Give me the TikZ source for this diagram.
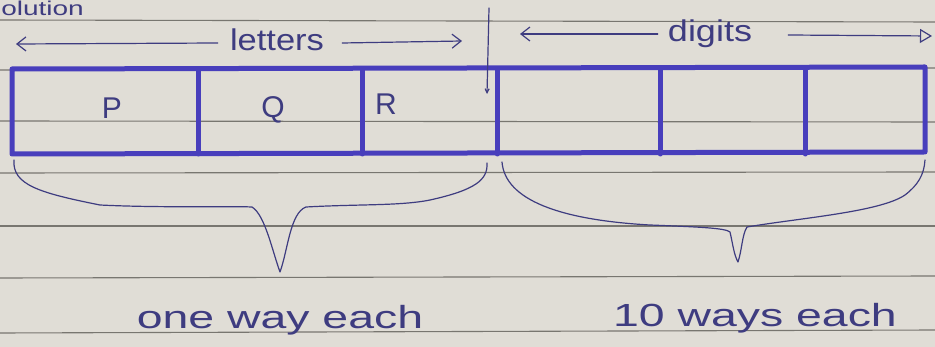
\documentclass[tikz,border=0pt]{standalone}
\usepackage{fontspec}
\setmainfont{Liberation Sans}
\usetikzlibrary{arrows.meta}
\definecolor{paper}{RGB}{224,221,214}
\definecolor{rule}{RGB}{120,118,112}
\definecolor{marker}{RGB}{72,62,188}
\definecolor{pen}{RGB}{62,60,128}
\tikzset{
  ruling/.style={draw=rule, line width=1.1pt},
  cellwall/.style={draw=marker, line width=5pt, line cap=round, line join=round},
  penline/.style={draw=pen, line width=1.2pt, line cap=round, line join=round},
  hand/.style={text=pen, font=\fontsize{30}{32}\selectfont, inner sep=0pt},
  handwide/.style={text=pen, font=\fontsize{32}{34}\selectfont, inner sep=0pt, xscale=1.45},
  handsmall/.style={text=pen, font=\fontsize{20}{22}\selectfont, inner sep=0pt, xscale=1.4},
}
\begin{document}
\begin{tikzpicture}[x=1pt,y=-1pt]
  % sheet of paper
  \fill[paper] (0,0) rectangle (935,347);
  \useasboundingbox (0,0) rectangle (935,347);
  % ruled lines of the notebook
  \foreach \ya/\yb in {20/22, 70/68, 121/122, 173/172, 226/226, 278/276, 333/330}
    \draw[ruling] (0,\ya) -- (935,\yb);

  % heading fragment at the top edge
  \node[handsmall, anchor=north west] (head) at (1,1) {olution};

  % the row of cells
  \coordinate (tl) at (12,69);
  \coordinate (tr) at (925,67);
  \coordinate (bl) at (12,154);
  \coordinate (br) at (925,152);
  \draw[cellwall] (tl) -- (tr) -- (br) -- (bl) -- cycle;
  \foreach \x/\n in {198/a, 362/b, 497/c, 660/d, 805/e}
    \draw[cellwall] (\x,69) -- (\x,154);

  % cell contents
  \node[hand] (p) at (112,108) {P};
  \node[hand] (q) at (273,110) {Q};
  \node[hand] (r) at (386,104) {R};

  % labels over the two groups of cells
  \node[hand, xscale=1.15] (letters) at (277,40) {letters};
  \node[hand, xscale=1.2] (digits) at (710,34) {digits};
  \coordinate (la) at (16,44);
  \coordinate (lb) at (462,41);
  \coordinate (da) at (520,34);
  \coordinate (db) at (932,36);
  \draw[penline, -{Straight Barb[length=9pt, width=14pt]}] (letters.west) ++(-12,3) -- (la);
  \draw[penline, -{Straight Barb[length=9pt, width=14pt]}] (letters.east) ++(18,3) -- (lb);
  \draw[penline, -{Straight Barb[length=9pt, width=14pt]}] (digits.west) ++(-10,0) -- (da);
  \draw[penline, -{Triangle[open, length=12pt, width=14pt]}] (digits.east) ++(36,1) -- (db);

  % split mark between letters and digits
  \coordinate (st) at (489,8);
  \coordinate (sb) at (487,94);
  \draw[penline, -{Straight Barb[length=4pt, width=4pt]}] (st) -- (sb);

  % brace under the letters
  \coordinate (lb1) at (14,160);
  \coordinate (lt) at (280,272);
  \coordinate (lb2) at (487,163);
  \draw[penline]
    (lb1) .. controls (12,185) and (40,193) .. (100,205)
    .. controls (160,208) and (230,206) .. (252,207)
    .. controls (265,215) and (272,250) .. (lt)
    .. controls (288,250) and (290,213) .. (306,207)
    .. controls (360,204) and (400,206) .. (430,200)
    .. controls (475,190) and (488,180) .. (lb2);

  % brace under the digits
  \coordinate (rb1) at (502,162);
  \coordinate (rt) at (738,262);
  \coordinate (rb2) at (925,160);
  \draw[penline]
    (rb1) .. controls (505,200) and (560,220) .. (650,225)
    .. controls (700,227) and (725,228) .. (730,232)
    .. controls (733,245) and (734,255) .. (rt)
    .. controls (742,250) and (742,235) .. (747,227)
    .. controls (800,218) and (880,212) .. (905,195)
    .. controls (918,185) and (924,175) .. (rb2);

  % conclusions
  \node[handwide] (one) at (280,320) {one way each};
  \node[handwide] (ten) at (755,318) {10 ways each};
\end{tikzpicture}
\end{document}
